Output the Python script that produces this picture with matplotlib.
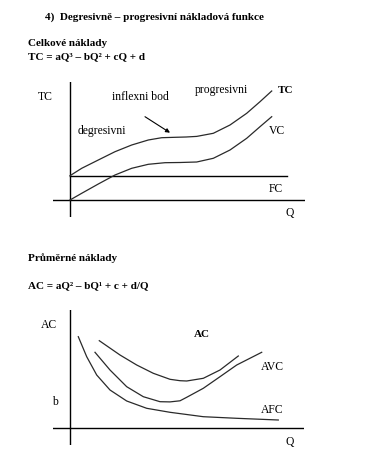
import matplotlib
matplotlib.use("Agg")
import matplotlib.pyplot as plt

plt.rcParams['font.family'] = ['Liberation Serif', 'DejaVu Serif']

W, H = 370, 465

# ---- Chart 1: total costs (Q units, cost units) ----
tc_q = [0, 1.17, 2.83, 4.5, 6.17, 7.83, 9.17, 10.5, 11.6, 12.67, 14.33, 16.0, 17.67, 19.0, 20.17]
tc_c = [2.43, 3.17, 4.0, 4.83, 5.5, 6.0, 6.23, 6.27, 6.3, 6.36, 6.67, 7.5, 8.67, 9.83, 10.9]
vc_q = [0, 1.17, 2.83, 4.5, 6.17, 7.83, 9.5, 11.0, 12.67, 14.33, 16.0, 17.67, 19.0, 20.17]
vc_c = [0, 0.67, 1.6, 2.5, 3.17, 3.57, 3.73, 3.75, 3.8, 4.17, 5.0, 6.17, 7.33, 8.33]
fc_q = [0, 21.7]
fc_c = [2.43, 2.43]

# ---- Chart 2: average costs ----
afc_q = [0.83, 1.67, 2.67, 4.0, 5.67, 7.67, 10.0, 13.33, 16.67, 20.83]
afc_c = [9.16, 7.16, 5.33, 3.83, 2.73, 2.0, 1.6, 1.16, 1.0, 0.83]
avc_q = [2.5, 4.0, 5.67, 7.33, 9.0, 10.0, 11.0, 11.67, 13.33, 15.0, 16.67, 19.17]
avc_c = [7.6, 5.83, 4.16, 3.16, 2.66, 2.64, 2.75, 3.1, 4.0, 5.16, 6.33, 7.6]
ac_q = [2.93, 5.0, 6.67, 8.33, 10.0, 11.0, 11.67, 13.33, 15.0, 16.83]
ac_c = [8.76, 7.33, 6.33, 5.5, 4.9, 4.76, 4.73, 5.0, 5.83, 7.23]

fig = plt.figure(figsize=(W / 100, H / 100), dpi=100)
fig.patch.set_facecolor('white')

def px_axes(l, t, r, b):
    return fig.add_axes([l / W, 1 - b / H, (r - l) / W, (b - t) / H])

def ftext(x, y, s, **kw):
    fig.text(x / W, 1 - y / H, s, va='center', ha='left', **kw)

FSB = 8.0
FS = 8.4
CURVE = '#2a2a2a'

# texts
ftext(45, 17.5, '4)  Degresivně – progresivní nákladová funkce', fontsize=FSB, fontweight='bold')
ftext(28, 43.5, 'Celkové náklady', fontsize=FSB, fontweight='bold')
ftext(28, 56.5, 'TC = aQ³ – bQ² + cQ + d', fontsize=FSB, fontweight='bold')
ftext(28, 258, 'Průměrné náklady', fontsize=FSB, fontweight='bold')
ftext(28, 285.5, 'AC = aQ² – bQ¹ + c + d/Q', fontsize=FSB, fontweight='bold')

# chart 1
ax1 = px_axes(53, 82, 305, 217)
ax1.set_xlim(-1.7, 23.5)
ax1.set_ylim(-1.7, 11.8)
ax1.axis('off')
ax1.axhline(0, color='black', lw=1.0)
ax1.axvline(0, color='black', lw=1.0)
ax1.plot(fc_q, fc_c, color='black', lw=1.0)
ax1.plot(tc_q, tc_c, color=CURVE, lw=0.9)
ax1.plot(vc_q, vc_c, color=CURVE, lw=0.9)
ax1.annotate('', xy=(10.0, 6.73), xytext=(7.5, 8.33),
             arrowprops=dict(arrowstyle='-|>', color='black', lw=0.8,
                             mutation_scale=6, shrinkA=0, shrinkB=0))

ftext(38, 97, 'TC', fontsize=FS)
ftext(112, 97, 'inflexni bod', fontsize=FS)
ftext(195, 90, 'progresivni', fontsize=FS)
ftext(278, 90, 'TC', fontsize=FSB, fontweight='bold')
ftext(78, 131, 'degresivni', fontsize=FS)
ftext(269, 131.5, 'VC', fontsize=FS)
ftext(269, 189.5, 'FC', fontsize=FS)
ftext(285, 213, 'Q', fontsize=FS)

# chart 2
ax2 = px_axes(53, 310, 304, 445)
ax2.set_xlim(-1.7, 23.4)
ax2.set_ylim(-1.67, 11.83)
ax2.axis('off')
ax2.axhline(0, color='black', lw=1.0)
ax2.axvline(0, color='black', lw=1.0)
ax2.plot(afc_q, afc_c, color=CURVE, lw=0.9)
ax2.plot(avc_q, avc_c, color=CURVE, lw=0.9)
ax2.plot(ac_q, ac_c, color=CURVE, lw=0.9)

ftext(41, 325, 'AC', fontsize=FS)
ftext(194, 334.5, 'AC', fontsize=FSB, fontweight='bold')
ftext(261, 367, 'AVC', fontsize=FS)
ftext(52, 402, 'b', fontsize=FS)
ftext(261, 409.5, 'AFC', fontsize=FS)
ftext(285, 442, 'Q', fontsize=FS)

fig.savefig('out.png', dpi=100, facecolor='white')
